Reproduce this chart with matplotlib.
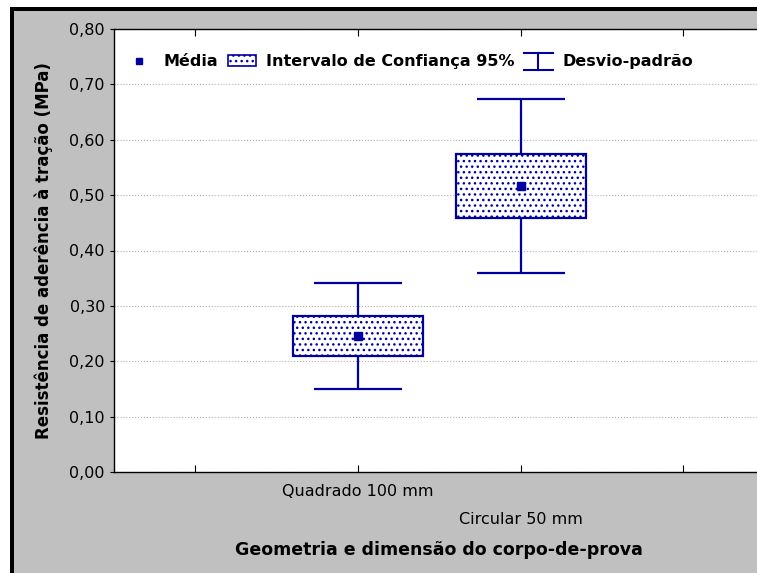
import numpy as np
import matplotlib.pyplot as plt
from matplotlib.patches import Rectangle
from matplotlib.lines import Line2D
from matplotlib.legend_handler import HandlerBase
from matplotlib.ticker import FuncFormatter

categorias = ["Quadrado 100 mm", "Circular 50 mm"]
media = [0.245, 0.516]
ic_inf = [0.209, 0.458]
ic_sup = [0.281, 0.574]
dp_inf = [0.150, 0.359]
dp_sup = [0.341, 0.673]

azul = '#0000A0'
cinza = '#C0C0C0'
plt.rcParams['hatch.linewidth'] = 1.0
plt.rcParams['hatch.color'] = '#4040C8'


class HandlerI(HandlerBase):
    # simbolo "I" do desvio-padrao na legenda
    def create_artists(self, legend, orig, xd, yd, width, height, fontsize, trans):
        cx = xd + width / 2
        y0, y1 = yd - height * 0.3, yd + height * 1.2
        kw = dict(color=azul, lw=1.5, transform=trans)
        return [Line2D([xd, xd + width], [y0, y0], **kw),
                Line2D([xd, xd + width], [y1, y1], **kw),
                Line2D([cx, cx], [y0, y1], **kw)]


fig = plt.figure(figsize=(7.57, 5.73), dpi=100, facecolor='white')
W, H = 757, 573
# moldura cinza com borda preta em cima e a esquerda
fig.patches.append(Rectangle((14 / W, 0), 1, 1 - 11 / H, transform=fig.transFigure,
                             facecolor=cinza, edgecolor='none', zorder=-2))
fig.patches.append(Rectangle((10 / W, 0), 4 / W, 1 - 7 / H, transform=fig.transFigure,
                             facecolor='black', edgecolor='none', zorder=-1))
fig.patches.append(Rectangle((10 / W, 1 - 11 / H), 1, 4 / H, transform=fig.transFigure,
                             facecolor='black', edgecolor='none', zorder=-1))

ax = fig.add_axes([114 / W, (573 - 472) / H, 1 - 114 / W + 0.01, (472 - 29) / H])
ax.set_facecolor('white')
ax.set_zorder(2)

x = np.arange(1, len(categorias) + 1)
media = np.array(media)
ic_inf = np.array(ic_inf); ic_sup = np.array(ic_sup)
dp_inf = np.array(dp_inf); dp_sup = np.array(dp_sup)

ax.errorbar(x, media, yerr=[media - dp_inf, dp_sup - media], fmt='none', ecolor=azul,
            elinewidth=1.6, capsize=32, capthick=1.6, zorder=2)
larg = 0.8
for xi, lo, hi in zip(x, ic_inf, ic_sup):
    ax.add_patch(Rectangle((xi - larg / 2, lo), larg, hi - lo, facecolor='white',
                           edgecolor=azul, linewidth=1.6, hatch='...', zorder=3))
ax.plot(x, media, 's', color=azul, ms=6, zorder=4)

h_media = Line2D([], [], marker='s', color=azul, ls='none', ms=5)
h_caixa = Rectangle((0, 0), 1, 1, facecolor='white', edgecolor=azul, linewidth=1.2,
                    hatch='...')
h_dp = Line2D([], [])

ax.set_ylim(0, 0.8)
ax.set_xlim(-0.5, 3.5)
ax.set_yticks(np.arange(0, 0.81, 0.1))
ax.yaxis.set_major_formatter(FuncFormatter(lambda v, p: f"{v:.2f}".replace('.', ',')))
ax.set_xticks([0, 1, 2, 3])
ax.set_xticklabels([])
ax.tick_params(axis='x', direction='in', top=True, length=5)
ax.tick_params(axis='y', direction='out', length=3, labelsize=11.5)
ax.grid(axis='y', color='#B0B0B0', linestyle=':', linewidth=0.8)
ax.set_axisbelow(True)
for s in ['left', 'bottom', 'top']:
    ax.spines[s].set_linewidth(1.0)
ax.spines['right'].set_visible(False)

ax.text(x[0], -0.035, categorias[0], ha='center', va='center', fontsize=11.5)
ax.text(x[1], -0.085, categorias[1], ha='center', va='center', fontsize=11.5)
ax.text(0.5, -0.175, "Geometria e dimensão do corpo-de-prova", transform=ax.transAxes,
        ha='center', va='center', fontsize=12.5, fontweight='bold')
ax.set_ylabel("Resistência de aderência à tração (MPa)", fontsize=12, fontweight='bold',
              labelpad=12)

ax.legend([h_media, h_caixa, h_dp],
          ['Média', 'Intervalo de Confiança 95%', 'Desvio-padrão'],
          loc='upper left', bbox_to_anchor=(-0.005, 0.975), ncol=3, frameon=False,
          prop={'weight': 'bold', 'size': 11.5}, handlelength=1.8,
          columnspacing=0.6, handletextpad=0.6, handler_map={h_dp: HandlerI()})

fig.savefig('out.png', dpi=100)
